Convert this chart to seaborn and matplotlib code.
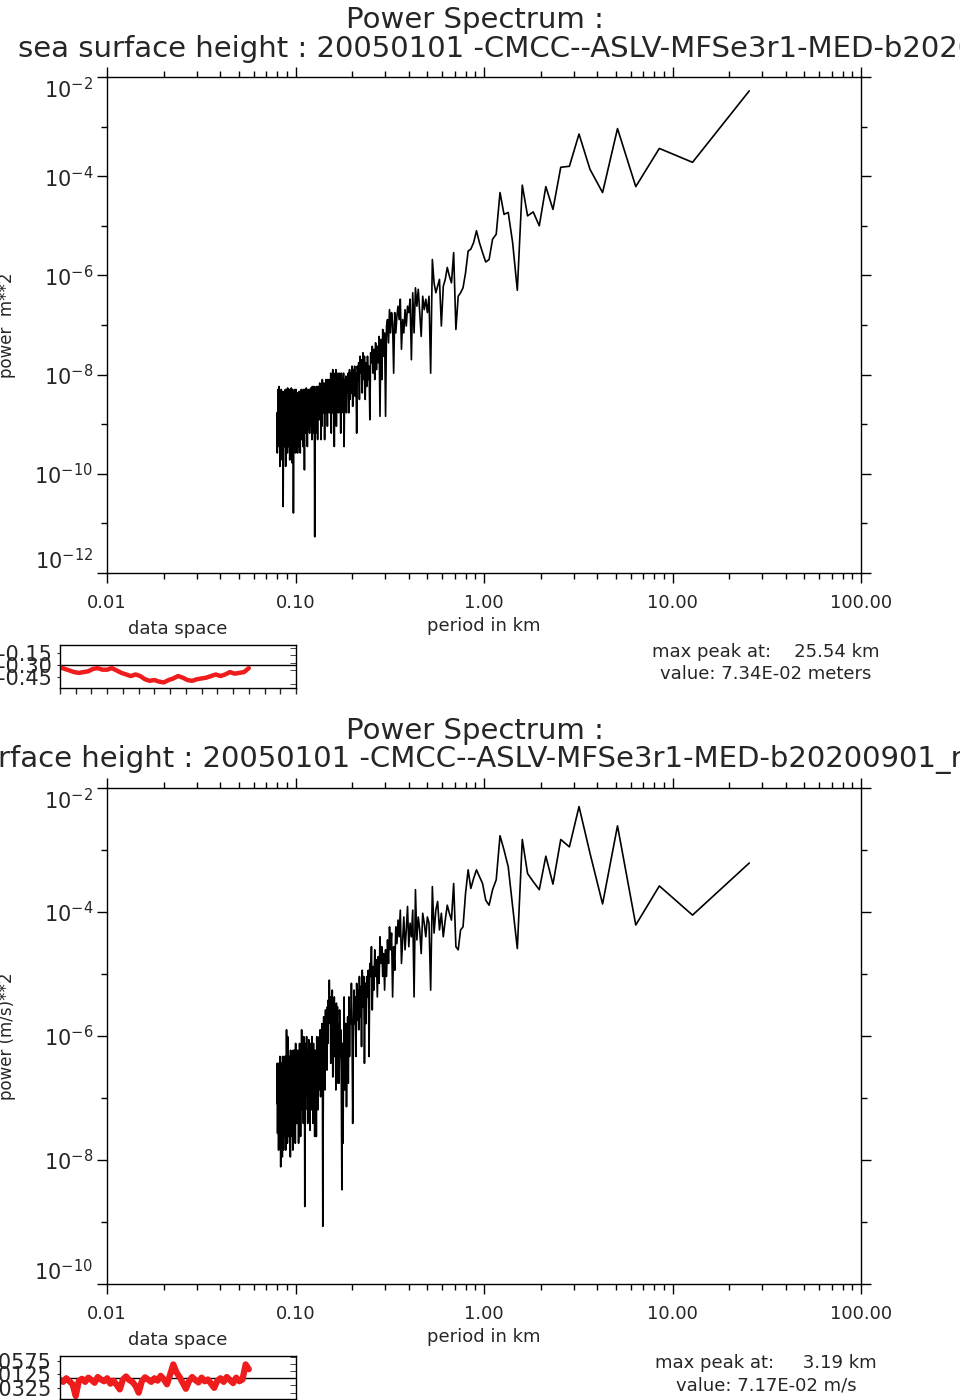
import numpy as np
import pandas as pd
import matplotlib
matplotlib.use("Agg")
import matplotlib.pyplot as plt
import seaborn as sns
from matplotlib.ticker import NullFormatter, MultipleLocator

# Spectral bins: period = transect length / wavenumber index
transect_km = 25.54
period_km = transect_km / np.arange(1, 321)

# log10 of power (k = 1 .. 320)
ssh_log_power = [
    -2.28, -3.72, -3.44, -4.21, -3.04, -4.33, -3.86, -3.15, -3.80, -3.82,
    -4.67, -4.21, -5.00, -4.72, -4.80, -4.18, -6.30, -5.34, -4.73, -4.77,
    -4.33, -5.17, -5.27, -5.68, -5.73, -5.54, -5.34, -5.10, -5.34, -5.47,
    -5.51, -5.95, -6.25, -6.35, -6.42, -7.09, -5.54, -6.15, -6.01, -5.84,
    -6.08, -6.22, -7.02, -6.08, -6.22, -6.35, -6.15, -5.68, -7.97, -6.42,
    -6.75, -6.48, -6.69, -6.42, -7.23, -6.75, -6.28, -6.62, -6.25, -7.16,
    -6.35, -7.70, -6.48, -6.75, -6.62, -7.02, -6.69, -7.16, -6.89, -7.49,
    -6.48, -6.89, -6.62, -6.82, -7.16, -6.75, -7.97, -6.96, -6.75, -7.16,
    -6.69, -7.36, -6.89, -7.02, -8.84, -7.16, -7.63, -7.09, -8.10, -7.29,
    -8.84, -7.23, -7.76, -7.43, -7.90, -7.36, -8.10, -7.49, -7.97, -7.43,
    -7.76, -7.56, -8.91, -7.83, -8.10, -7.63, -8.24, -7.76, -8.50, -7.63,
    -8.10, -7.56, -8.37, -7.70, -7.97, -7.63, -8.50, -7.76, -8.10, -7.83,
    -9.18, -7.97, -8.44, -7.83, -8.24, -7.90, -8.64, -7.83, -8.37, -7.97,
    -8.50, -7.90, -8.77, -7.97, -8.37, -8.10, -8.77, -8.03, -8.50, -8.10,
    -9.45, -7.97, -8.50, -8.10, -8.77, -7.97, -9.18, -8.24, -8.50, -7.97,
    -8.77, -8.03, -8.50, -7.97, -9.04, -7.90, -8.64, -8.10, -9.45, -7.97,
    -8.44, -7.90, -8.77, -8.10, -9.18, -7.97, -8.37, -8.10, -8.77, -8.24,
    -8.64, -8.10, -9.04, -8.24, -8.77, -8.10, -8.50, -8.24, -9.31, -8.17,
    -8.77, -8.24, -8.57, -8.10, -9.04, -8.30, -9.31, -8.24, -8.64, -8.17,
    -8.91, -8.37, -8.77, -8.24, -9.31, -8.37, -8.77, -8.24, -9.18, -8.37,
    -8.77, -11.27, -8.50, -8.24, -9.18, -8.30, -8.77, -8.24, -9.31, -8.37,
    -9.04, -8.27, -8.77, -8.37, -9.18, -8.30, -8.77, -8.37, -9.11, -8.30,
    -9.45, -8.37, -8.77, -8.27, -9.18, -8.37, -8.91, -8.30, -9.92, -8.44,
    -9.04, -8.30, -9.45, -8.37, -8.91, -8.44, -9.31, -8.30, -9.04, -8.37,
    -9.58, -8.44, -9.04, -8.34, -9.45, -8.44, -9.18, -8.37, -9.58, -8.44,
    -8.77, -8.37, -9.31, -8.30, -9.58, -8.44, -9.11, -8.30, -9.45, -8.37,
    -9.04, -10.79, -8.37, -9.31, -8.30, -9.78, -8.37, -9.18, -8.27, -9.45,
    -8.37, -8.91, -8.30, -9.72, -8.40, -9.18, -8.30, -9.45, -8.37, -9.04,
    -8.27, -9.58, -8.40, -9.25, -8.30, -9.45, -8.37, -9.85, -8.30, -9.11,
    -8.40, -9.45, -8.34, -9.31, -8.37, -9.58, -10.66, -8.37, -9.18, -8.34,
    -9.45, -8.40, -9.04, -8.30, -9.72, -8.37, -9.31, -8.34, -9.85, -8.40,
    -9.04, -8.24, -9.45, -8.37, -9.18, -8.30, -9.31, -8.77, -9.58, -8.77,
]

vel_log_power = [
    -3.21, -4.05, -3.58, -4.21, -2.61, -3.87, -3.05, -2.30, -2.95, -2.83,
    -3.55, -3.10, -3.64, -3.51, -3.38, -2.83, -4.59, -3.91, -3.27, -3.00,
    -2.77, -3.48, -3.64, -3.89, -3.81, -3.54, -3.43, -3.32, -3.46, -3.62,
    -3.32, -3.70, -4.24, -4.29, -4.61, -4.56, -3.54, -4.13, -4.02, -3.89,
    -4.13, -4.40, -4.02, -4.29, -3.83, -3.97, -4.34, -3.59, -5.26, -4.18,
    -4.08, -4.40, -4.18, -4.02, -4.67, -4.29, -4.08, -4.45, -3.64, -5.37,
    -3.97, -4.40, -4.18, -4.56, -3.91, -4.29, -4.61, -4.08, -4.45, -4.83,
    -3.97, -4.40, -4.13, -4.51, -4.24, -4.94, -4.56, -5.37, -4.34, -4.61,
    -4.24, -4.83, -4.45, -5.04, -4.61, -5.26, -4.67, -5.04, -4.56, -4.83,
    -4.40, -5.15, -4.72, -5.37, -4.77, -5.04, -4.61, -5.26, -4.88, -5.58,
    -4.56, -5.04, -4.83, -6.33, -4.94, -5.37, -5.04, -5.80, -5.15, -6.44,
    -5.04, -5.53, -4.94, -6.17, -5.20, -5.69, -5.04, -5.90, -5.26, -5.74,
    -5.15, -6.33, -5.37, -5.80, -5.26, -6.12, -7.41, -5.90, -5.15, -5.80,
    -5.58, -6.33, -5.37, -6.76, -5.69, -6.12, -7.14, -5.80, -5.80, -6.87,
    -5.37, -6.44, -7.73, -6.12, -8.48, -6.60, -5.90, -6.33, -5.58, -6.76,
    -5.80, -6.76, -5.53, -6.12, -5.47, -6.87, -5.69, -6.33, -5.37, -6.01,
    -5.58, -6.66, -5.26, -5.80, -5.47, -6.44, -5.37, -5.58, -5.10, -5.80,
    -5.42, -6.12, -5.53, -6.55, -5.80, -6.23, -5.58, -6.87, -5.90, -6.44,
    -5.69, -7.19, -9.07, -6.12, -5.80, -6.66, -6.12, -6.98, -5.90, -6.55,
    -6.01, -6.87, -6.12, -7.19, -6.23, -6.76, -6.01, -7.62, -6.33, -6.87,
    -6.23, -7.62, -6.33, -6.98, -6.12, -7.41, -6.44, -6.87, -6.01, -7.19,
    -6.33, -6.76, -6.12, -7.52, -6.23, -7.09, -6.06, -6.76, -6.33, -7.41,
    -6.23, -6.98, -6.01, -6.66, -6.12, -7.19, -6.33, -8.75, -6.23, -6.87,
    -6.01, -7.41, -6.44, -7.09, -6.12, -6.76, -5.90, -7.19, -6.33, -7.62,
    -6.23, -6.87, -6.12, -7.30, -6.44, -7.73, -6.33, -6.98, -6.23, -7.41,
    -6.44, -7.41, -6.33, -7.19, -6.12, -7.73, -6.55, -7.09, -6.23, -7.52,
    -6.44, -7.19, -6.23, -7.84, -6.55, -7.30, -6.33, -7.62, -6.44, -7.19,
    -6.23, -7.95, -6.66, -7.41, -6.33, -7.09, -6.44, -7.62, -6.23, -7.30,
    -6.01, -7.73, -6.55, -7.19, -5.90, -7.52, -6.44, -7.84, -6.33, -7.19,
    -6.55, -7.62, -6.33, -7.41, -6.66, -7.84, -6.44, -7.19, -6.33, -7.95,
    -6.66, -7.41, -6.44, -7.73, -6.87, -8.11, -6.44, -7.30, -6.33, -7.62,
    -6.66, -7.19, -6.44, -7.84, -6.55, -7.41, -6.76, -7.57, -6.44, -7.09,
]

# raw data along the transect (small "data space" panels)
ssh_data = [
    -0.33, -0.35, -0.37, -0.39, -0.40, -0.39, -0.38, -0.35, -0.34, -0.36,
    -0.36, -0.34, -0.37, -0.40, -0.42, -0.44, -0.42, -0.44, -0.48, -0.50,
    -0.49, -0.51, -0.52, -0.49, -0.47, -0.44, -0.46, -0.49, -0.50, -0.48,
    -0.47, -0.46, -0.44, -0.42, -0.44, -0.42, -0.39, -0.41, -0.40, -0.39,
    -0.34,
]
vel_data = [
    -0.005, -0.012, 0.000, -0.010, -0.020, -0.059, -0.008, -0.002, -0.012, 0.002,
    -0.006, -0.015, 0.004, -0.004, -0.010, 0.000, -0.018, -0.008, -0.022, -0.037,
    -0.004, 0.006, -0.006, -0.012, -0.025, -0.048, -0.010, 0.003, -0.004, -0.012,
    0.000, -0.008, 0.008, -0.004, -0.020, 0.012, 0.046, 0.020, 0.004, -0.015,
    -0.035, -0.010, 0.004, -0.006, -0.014, 0.002, -0.010, -0.004, -0.018, -0.032,
    -0.008, 0.000, -0.012, 0.004, -0.006, -0.016, 0.002, -0.010, -0.004, 0.046,
    0.030,
]

x_ticks = [0.01, 0.1, 1, 10, 100]
x_tick_labels = ["0.01", "0.10", "1.00", "10.00", "100.00"]

panels = [
    {
        "log_power": ssh_log_power, "data": ssh_data,
        "title2": "sea surface height : 20050101 -CMCC--ASLV-MFSe3r1-MED-b20200901_re-sv01.00",
        "title2_x": 18, "ylabel": "power  m**2",
        "ylim_exp": (-12, -2), "major_exp": [-12, -10, -8, -6, -4, -2],
        "peak": "max peak at:    25.54 km", "value": "value: 7.34E-02 meters",
        "data_ticks": [-0.15, -0.30, -0.45], "data_labels": ["-0.15", "-0.30", "-0.45"],
        "data_ylim": (-0.59, -0.05), "data_ref": -0.30, "data_xmax": 50, "data_lw": 3.2,
    },
    {
        "log_power": vel_log_power, "data": vel_data,
        "title2": "sea surface height : 20050101 -CMCC--ASLV-MFSe3r1-MED-b20200901_re-sv01.00",
        "title2_x": -96, "ylabel": "power (m/s)**2",
        "ylim_exp": (-10, -2), "major_exp": [-10, -8, -6, -4, -2],
        "peak": "max peak at:     3.19 km", "value": "value: 7.17E-02 m/s",
        "data_ticks": [0.0575, 0.0125, -0.0325], "data_labels": ["0.0575", "0.0125", "-0.0325"],
        "data_ylim": (-0.069, 0.074), "data_ref": 0.0, "data_xmax": 75, "data_lw": 4.5,
    },
]

sns.set_style("ticks")
plt.rcParams["font.family"] = ["DejaVu Sans"]
plt.rcParams["mathtext.fontset"] = "dejavusans"

W, H = 960, 1400
fig = plt.figure(figsize=(W / 100, H / 100), dpi=100)

def fx(px):
    return px / W

def fy(py):
    return 1 - py / H

# pixel offsets of each panel block (top of main axes)
for p, top in zip(panels, [77, 788]):
    off = top - 77

    # titles
    fig.text(fx(475), fy(20 + off), "Power Spectrum :", ha="center", va="center", fontsize=21)
    fig.text(fx(p["title2_x"]), fy(49 + off), p["title2"], ha="left", va="center", fontsize=21)

    # main spectrum axes
    ax = fig.add_axes([fx(107), fy(top + 496), fx(754), 496 / H])
    df = pd.DataFrame({"period": period_km, "power": 10.0 ** np.array(p["log_power"])})
    sns.lineplot(data=df, x="period", y="power", ax=ax, color="black", linewidth=1.2,
                 estimator=None, sort=False)
    ax.set_xscale("log")
    ax.set_yscale("log")
    ax.set_xlim(0.01, 100)
    lo, hi = p["ylim_exp"]
    ax.set_ylim(10.0 ** lo, 10.0 ** hi)
    ax.set_xticks(x_ticks, x_tick_labels)
    ax.set_yticks([10.0 ** e for e in p["major_exp"]],
                  [r"$10^{%d}$" % e for e in p["major_exp"]])
    ax.set_yticks([10.0 ** (e + 1) for e in p["major_exp"][:-1]], minor=True)
    ax.xaxis.set_minor_formatter(NullFormatter())
    ax.yaxis.set_minor_formatter(NullFormatter())
    ax.tick_params(which="both", direction="out", top=True, right=True,
                   color="black", width=1.0)
    ax.tick_params(which="major", length=7)
    ax.tick_params(which="minor", length=4)
    ax.tick_params(axis="x", pad=8, labelsize=13)
    ax.tick_params(axis="y", pad=3, labelsize=15)
    # end labels are kept inside the frame
    ylabels = ax.get_yticklabels()
    ylabels[0].set_va("bottom")
    ylabels[-1].set_va("top")
    ax.set_xlabel("")
    ax.set_ylabel("")
    for s in ax.spines.values():
        s.set_visible(True)
        s.set_linewidth(1.0)
        s.set_color("black")

    # text labels under the axes
    fig.text(fx(484), fy(626 + off), "period in km", ha="center", va="center", fontsize=13)
    fig.text(fx(178), fy(629 + off), "data space", ha="center", va="center", fontsize=13)
    fig.text(fx(766), fy(652 + off), p["peak"], ha="center", va="center", fontsize=13)
    fig.text(fx(766), fy(674 + off), p["value"], ha="center", va="center", fontsize=13)
    fig.text(fx(16), fy(325 + off), p["ylabel"], ha="right", va="center", rotation=90, fontsize=12)

    # small panel with the raw data
    ins = fig.add_axes([fx(60), fy(688 + off), fx(236), 43 / H])
    dd = pd.DataFrame({"i": np.arange(len(p["data"])), "v": p["data"]})
    ins.axhline(p["data_ref"], color="black", linewidth=1.0)
    sns.lineplot(data=dd, x="i", y="v", ax=ins, color="#ee1c1c", linewidth=p["data_lw"],
                 estimator=None, sort=False)
    ins.set_xlim(0, p["data_xmax"])
    ins.set_ylim(*p["data_ylim"])
    ins.set_yticks(p["data_ticks"], p["data_labels"])
    ins.set_xticks(np.linspace(0, p["data_xmax"], 16))
    ins.set_xticklabels([])
    ins.yaxis.set_minor_locator(MultipleLocator((p["data_ylim"][1] - p["data_ylim"][0]) / 6))
    ins.tick_params(axis="y", which="major", direction="out", length=2, pad=4, labelsize=15)
    ins.tick_params(axis="y", which="minor", direction="in", left=False, right=True, length=4)
    ins.tick_params(axis="x", direction="out", length=4, width=1.0)
    ins.set_xlabel("")
    ins.set_ylabel("")
    for s in ins.spines.values():
        s.set_visible(True)
        s.set_linewidth(1.0)
        s.set_color("black")

fig.savefig("out.png", dpi=100)
